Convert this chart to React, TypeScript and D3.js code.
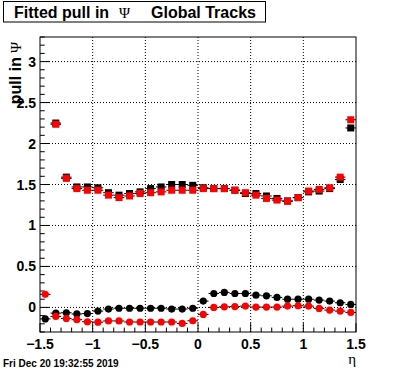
import React from "react";
import * as d3 from "d3";

const etaBins = [
  -1.45, -1.35, -1.25, -1.15, -1.05, -0.95, -0.85, -0.75, -0.65, -0.55,
  -0.45, -0.35, -0.25, -0.15, -0.05, 0.05, 0.15, 0.25, 0.35, 0.45,
  0.55, 0.65, 0.75, 0.85, 0.95, 1.05, 1.15, 1.25, 1.35, 1.45,
];

// upper series (squares)
const widthBlack: (number | null)[] = [
  null, 2.25, 1.59, 1.47, 1.47, 1.46, 1.4, 1.37, 1.39, 1.41,
  1.45, 1.47, 1.5, 1.5, 1.49, 1.46, 1.45, 1.45, 1.43, 1.39,
  1.39, 1.36, 1.33, 1.3, 1.34, 1.41, 1.42, 1.45, 1.56, 2.19,
];
const widthRed: (number | null)[] = [
  null, 2.235, 1.575, 1.45, 1.43, 1.43, 1.37, 1.34, 1.36, 1.39,
  1.4, 1.41, 1.43, 1.43, 1.43, 1.45, 1.45, 1.45, 1.43, 1.4,
  1.37, 1.33, 1.31, 1.295, 1.34, 1.42, 1.44, 1.46, 1.59, 2.29,
];

// lower series (circles)
const meanBlack: (number | null)[] = [
  -0.14, -0.07, -0.065, -0.08, -0.075, -0.045, -0.02, -0.01, -0.01, -0.01,
  -0.01, -0.01, -0.02, -0.02, -0.01, 0.077, 0.17, 0.183, 0.17, 0.17,
  0.15, 0.142, 0.122, 0.1, 0.1, 0.1, 0.089, 0.077, 0.057, 0.036,
];
const meanRed: (number | null)[] = [
  0.16, -0.11, -0.135, -0.15, -0.175, -0.18, -0.165, -0.165, -0.178, -0.178,
  -0.178, -0.178, -0.178, -0.195, -0.163, -0.085, 0.0, 0.007, 0.01, 0.016,
  0.004, 0.004, 0.004, 0.016, 0.02, 0.016, -0.012, -0.033, -0.045, -0.061,
];

const xTickLabels = ["\u22121.5", "\u22121", "\u22120.5", "0", "0.5", "1", "1.5"];
const xTickValues = [-1.5, -1, -0.5, 0, 0.5, 1, 1.5];
const yTickLabels = ["0", "0.5", "1", "1.5", "2", "2.5", "3"];
const yTickValues = [0, 0.5, 1, 1.5, 2, 2.5, 3];

const binHalf = 0.05;

const FL = 40, FR = 356, FT = 37, FB = 332;
const SANS = "'Liberation Sans', Arial, Helvetica, sans-serif";
const SERIF = "'Liberation Serif', 'Times New Roman', serif";

export default function App() {
  const x = d3.scaleLinear().domain([-1.5, 1.5]).range([FL, FR]);
  const y = d3.scaleLinear().domain([-0.3, 3.3]).range([FB, FT]);
  const xMinor = x.ticks(30);
  const yMinor = y.ticks(36);
  const majTx = 0.03 * (FB - FT);
  const majTy = 0.03 * (FR - FL);

  const errLines = (vals: (number | null)[], color: string, key: string) =>
    etaBins.map((c, i) => {
      const v = vals[i];
      if (v == null) return null;
      return (
        <line
          key={key + i}
          x1={x(c - binHalf)}
          x2={x(c + binHalf)}
          y1={y(v)}
          y2={y(v)}
          stroke={color}
          strokeWidth={1}
        />
      );
    });

  const squares = (vals: (number | null)[], color: string, key: string) =>
    etaBins.map((c, i) => {
      const v = vals[i];
      if (v == null) return null;
      const s = 7;
      return (
        <rect key={key + i} x={x(c) - s / 2} y={y(v) - s / 2} width={s} height={s} fill={color} />
      );
    });

  const circles = (vals: (number | null)[], color: string, key: string) =>
    etaBins.map((c, i) => {
      const v = vals[i];
      if (v == null) return null;
      return <circle key={key + i} cx={x(c)} cy={y(v)} r={3.6} fill={color} />;
    });

  return (
    <svg
      width={396}
      height={372}
      style={{ position: "absolute", left: 0, top: 0, background: "#fff" }}
    >
      <rect x={0} y={0} width={396} height={372} fill="#fff" />
      {/* grid */}
      {xTickValues.slice(1, -1).map((t) => (
        <line key={"gx" + t} x1={x(t)} x2={x(t)} y1={FT} y2={FB} stroke="#000" strokeWidth={1} strokeDasharray="1,2" />
      ))}
      {yTickValues.map((t) => (
        <line key={"gy" + t} x1={FL} x2={FR} y1={y(t)} y2={y(t)} stroke="#000" strokeWidth={1} strokeDasharray="1,2" />
      ))}

      {/* ticks */}
      {xMinor.map((t) => {
        const isMaj = xTickValues.some((m) => Math.abs(m - t) < 1e-9);
        return (
          <line key={"tx" + t} x1={x(t)} x2={x(t)} y1={FB} y2={FB - (isMaj ? majTx : majTx / 2)} stroke="#000" />
        );
      })}
      {yMinor.map((t) => {
        const isMaj = yTickValues.some((m) => Math.abs(m - t) < 1e-9);
        return (
          <line key={"ty" + t} x1={FL} x2={FL + (isMaj ? majTy : majTy / 2)} y1={y(t)} y2={y(t)} stroke="#000" />
        );
      })}

      {/* data */}
      {errLines(widthBlack, "#000", "ewb")}
      {errLines(widthRed, "#000", "ewr")}
      {errLines(meanBlack, "#000", "emb")}
      {errLines(meanRed, "#000", "emr")}
      {squares(widthBlack, "#000", "swb")}
      {squares(widthRed, "#ff0000", "swr")}
      {circles(meanBlack, "#000", "cmb")}
      {circles(meanRed, "#ff0000", "cmr")}

      {/* frame */}
      <rect x={FL} y={FT} width={FR - FL} height={FB - FT} fill="none" stroke="#000" strokeWidth={1} />

      {/* tick labels */}
      {xTickValues.map((t, i) => (
        <text key={"xl" + t} x={x(t)} y={348.5} textAnchor="middle" fontFamily={SANS} fontWeight="bold" fontSize={14}>
          {xTickLabels[i]}
        </text>
      ))}
      {yTickValues.map((t, i) => (
        <text key={"yl" + t} x={36} y={y(t) + 5} textAnchor="end" fontFamily={SANS} fontWeight="bold" fontSize={14}>
          {yTickLabels[i]}
        </text>
      ))}

      {/* axis titles */}
      <text x={356} y={364} textAnchor="end" fontFamily={SERIF} fontSize={15}>
        η
      </text>
      <text transform="translate(21,42) rotate(-90)" textAnchor="end" fontFamily={SANS} fontWeight="bold" fontSize={16}>
        pull in
        <tspan fontFamily={SERIF} fontWeight="normal" fontSize={15} dx={4}>
          Ψ
        </tspan>
      </text>

      {/* title */}
      <rect x={3.5} y={1.5} width={262} height={20.5} fill="#fff" stroke="#000" strokeWidth={1} />
      <text x={14} y={17.5} fontFamily={SANS} fontWeight="bold" fontSize={16}>
        Fitted pull in
      </text>
      <text x={119} y={17.5} fontFamily={SERIF} fontSize={15}>
        Ψ
      </text>
      <text x={151} y={17.5} fontFamily={SANS} fontWeight="bold" fontSize={16}>
        Global Tracks
      </text>

      {/* date */}
      <text x={3} y={367} fontFamily={SANS} fontWeight="bold" fontSize={10}>
        Fri Dec 20 19:32:55 2019
      </text>
    </svg>
  );
}
